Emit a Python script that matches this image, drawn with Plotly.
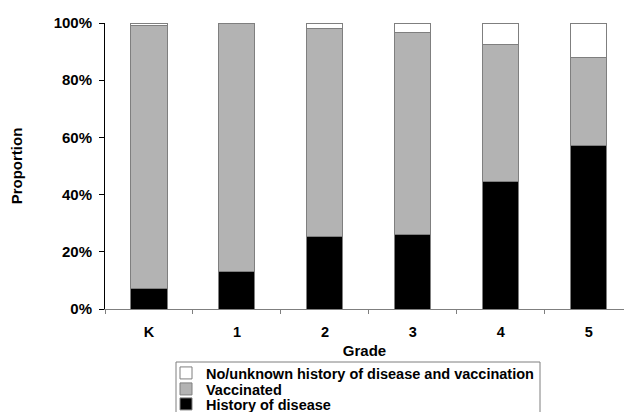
import plotly.graph_objects as go

grades = ["K", "1", "2", "3", "4", "5"]
history = [0.07, 0.13, 0.255, 0.262, 0.445, 0.57]
vaccinated = [0.922, 0.87, 0.725, 0.705, 0.481, 0.311]
no_unknown = [0.008, 0.0, 0.02, 0.033, 0.074, 0.119]

series_names = ["History of disease", "Vaccinated",
                "No/unknown history of disease and vaccination"]
series_colors = ["#000000", "#b3b3b3", "#ffffff"]
series_legends = ["legend3", "legend2", "legend"]

fig = go.Figure()
for name, vals, col, lg in zip(series_names, [history, vaccinated, no_unknown],
                               series_colors, series_legends):
    fig.add_trace(go.Bar(
        x=grades, y=vals, name=name, legend=lg,
        marker=dict(color=col, line=dict(color="#7f7f7f", width=1)),
        width=0.41,
    ))

font_family = "Liberation Sans, Arial, sans-serif"

# plot area in pixels: x 105..624, y 23..309
def px_x(p):
    return (p - 105) / 519.0

def px_y(p):
    return (309 - p) / 286.0

legend_font = dict(family=font_family, size=14.5, color="black", weight="bold")
common_legend = dict(xanchor="left", yanchor="middle", bgcolor="rgba(0,0,0,0)",
                     borderwidth=0, font=legend_font, itemwidth=30)

fig.update_layout(
    barmode="stack",
    width=624, height=412,
    margin=dict(l=105, r=0, t=23, b=103, autoexpand=False),
    plot_bgcolor="white", paper_bgcolor="white",
    font=dict(family=font_family, size=12, color="black"),
    showlegend=True,
    legend=dict(x=px_x(166), y=px_y(373), **common_legend),
    legend2=dict(x=px_x(166), y=px_y(389), **common_legend),
    legend3=dict(x=px_x(166), y=px_y(404), **common_legend),
    shapes=[dict(type="rect", xref="paper", yref="paper",
                 x0=px_x(176), x1=px_x(540), y0=px_y(362), y1=px_y(430),
                 line=dict(color="#7f7f7f", width=1), fillcolor="rgba(0,0,0,0)",
                 layer="above")],
    xaxis=dict(
        range=[-0.5, 5.4],
        showline=True, linecolor="#7f7f7f", linewidth=1,
        ticks="outside", tickson="boundaries", ticklen=4, tickcolor="#7f7f7f",
        tickfont=dict(size=14.5, weight="bold"),
        ticklabelstandoff=10,
        title=dict(text="Grade", font=dict(size=15, weight="bold"), standoff=6),
        showgrid=False,
    ),
    yaxis=dict(
        range=[0, 1],
        showline=True, linecolor="#000000", linewidth=1,
        ticks="outside", ticklen=5, tickcolor="#000000",
        tickvals=[0, 0.2, 0.4, 0.6, 0.8, 1.0],
        ticktext=["0%", "20%", "40%", "60%", "80%", "100%"],
        tickfont=dict(size=15, weight="bold"),
        ticklabelstandoff=4,
        title=dict(text="Proportion", font=dict(size=15, weight="bold"), standoff=27),
        showgrid=False, zeroline=False,
    ),
)

fig.write_html("out.html", config={"displayModeBar": False},
               post_script="document.body.style.margin='0';")
